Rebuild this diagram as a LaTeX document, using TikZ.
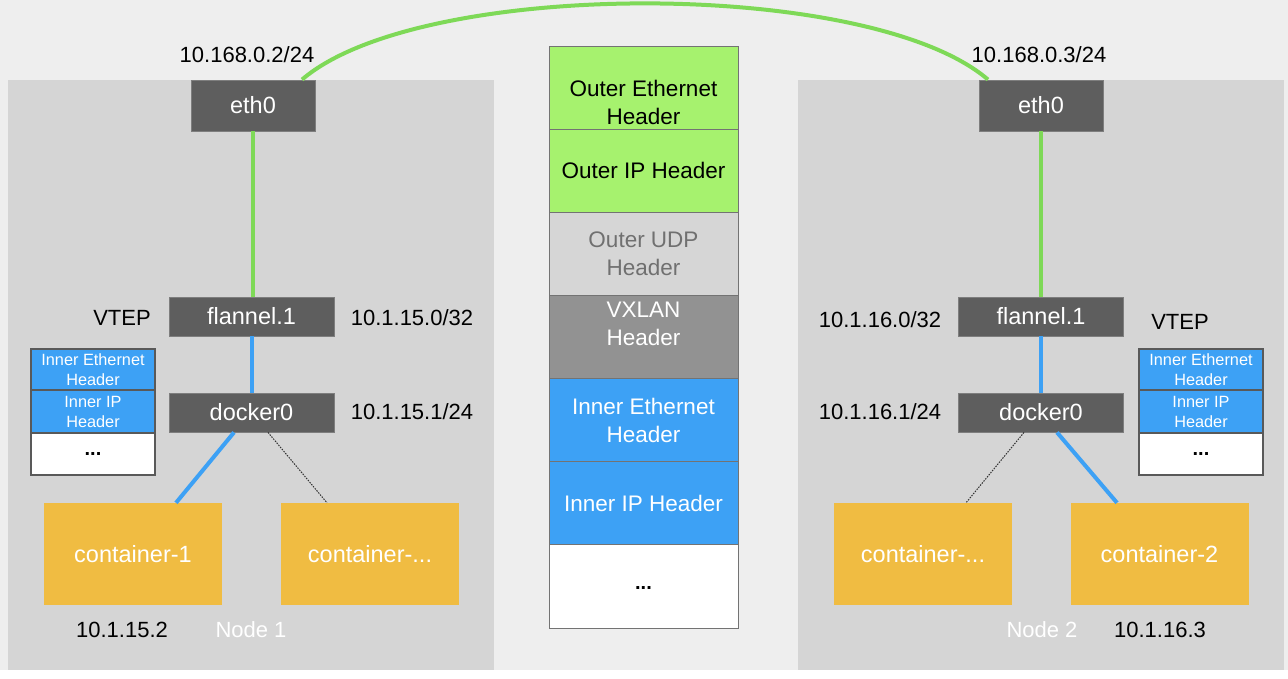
\documentclass[tikz,border=0pt]{standalone}
\usepackage{fontspec}
\setmainfont{Liberation Sans}
\usetikzlibrary{calc}
\definecolor{bgc}{HTML}{EEEEEE}
\definecolor{panelc}{HTML}{D5D5D5}
\definecolor{darkc}{HTML}{5E5E5E}
\definecolor{greenl}{HTML}{7ED957}
\definecolor{greenf}{HTML}{A6F26E}
\definecolor{udpc}{HTML}{D6D6D6}
\definecolor{udpt}{HTML}{707070}
\definecolor{vxc}{HTML}{929292}
\definecolor{bluec}{HTML}{3DA1F5}
\definecolor{contc}{HTML}{F0BC42}
\begin{document}
\begin{tikzpicture}[x=1pt,y=-1pt,
  devbox/.style={fill=darkc,draw=darkc!80!white,line width=0.8pt,text=white,inner sep=0pt,font=\fontsize{23.5}{26}\selectfont},
  contbox/.style={fill=contc,inner sep=0pt,text=white,minimum width=178pt,minimum height=102pt,font=\fontsize{23.5}{26}\selectfont},
  seg/.style={draw=black!55,line width=0.9pt,inner sep=0pt,minimum width=189pt,minimum height=83.14pt},
  segtxt/.style={align=center,font=\fontsize{22.5}{28}\selectfont},
  sseg/.style={draw=black!65,line width=1.2pt,inner sep=0pt,minimum width=124pt},
  stxt/.style={align=center,text=white,font=\fontsize{16.3}{20}\selectfont},
  dots/.style={text=black,font=\bfseries\fontsize{20}{22}\selectfont},
  iplabel/.style={font=\fontsize{22}{26}\selectfont,text=black},
  glink/.style={draw=greenl,line width=4pt},
  blink/.style={draw=bluec,line width=4pt},
  dlink/.style={draw=black!80,line width=1pt,dash pattern=on 1.5pt off 1.2pt}]
\useasboundingbox (0,0) rectangle (1288,678);
\fill[white] (0,0) rectangle (1288,678);
\fill[bgc] (0,0) rectangle (1288,670);
% panels
\fill[panelc] (8,80) rectangle (494,670);
\fill[panelc] (798,80) rectangle (1284,670);

% devices left
\node[devbox,minimum width=124pt,minimum height=51pt] (eL) at (253,105.5) {eth0};
\node[devbox,minimum width=165pt,minimum height=39pt] (fL) at (251.5,316.5) {flannel.1};
\node[devbox,minimum width=165pt,minimum height=39pt] (dL) at (251.5,412.5) {docker0};
% devices right
\node[devbox,minimum width=124pt,minimum height=51pt] (eR) at (1041,105.5) {eth0};
\node[devbox,minimum width=165pt,minimum height=39pt] (fR) at (1041,316.5) {flannel.1};
\node[devbox,minimum width=165pt,minimum height=39pt] (dR) at (1041,412.5) {docker0};

% containers
\node[contbox] (c1) at (133,554) {container-1};
\node[contbox] (c2) at (370,554) {container-...};
\node[contbox] (c3) at (923,554) {container-...};
\node[contbox] (c4) at (1159.5,554) {container-2};

% links
\coordinate (gL) at ($(eL.north)+(49,0)$);
\coordinate (gR) at ($(eR.north)+(-53,0)$);
\draw[glink] (gL) .. controls (420,-22) and (870,-22) .. (gR);
\draw[glink] (eL.south) -- (eL.south |- fL.north);
\draw[glink] (eR.south) -- (eR.south |- fR.north);
\draw[blink] (fL.south) -- (fL.south |- dL.north);
\draw[blink] (fR.south) -- (fR.south |- dR.north);
\draw[blink] ($(dL.south)+(-17.5,0)$) -- ($(c1.north)+(43,0)$);
\draw[dlink] ($(dL.south)+(16.5,0)$) -- ($(c2.north)+(-43,0)$);
\draw[dlink] ($(dR.south)+(-17,0)$) -- ($(c3.north)+(43,0)$);
\draw[blink] ($(dR.south)+(16,0)$) -- ($(c4.north)+(-42.5,0)$);

% labels
\node[iplabel] (ipL) at (247,55) {10.168.0.2/24};
\node[iplabel] (ipR) at (1039,55) {10.168.0.3/24};
\node[iplabel] (vtL) at (122,318) {VTEP};
\node[iplabel] (fipL) at (412,318) {10.1.15.0/32};
\node[iplabel] (dipL) at (412,412) {10.1.15.1/24};
\node[iplabel] (fipR) at (880,320) {10.1.16.0/32};
\node[iplabel] (vtR) at (1180,322) {VTEP};
\node[iplabel] (dipR) at (880,412) {10.1.16.1/24};
\node[iplabel] (c1ip) at (122,630) {10.1.15.2};
\node[iplabel,text=white] (n1) at (251,630) {Node 1};
\node[iplabel,text=white] (n2) at (1042,630) {Node 2};
\node[iplabel] (c4ip) at (1160,630) {10.1.16.3};

% central stack
\node[seg,fill=greenf] (s1) at (643.5,87.57) {};
\node[seg,fill=greenf] (s2) at (643.5,170.71) {};
\node[seg,fill=udpc] (s3) at (643.5,253.85) {};
\node[seg,fill=vxc] (s4) at (643.5,336.99) {};
\node[seg,fill=bluec] (s5) at (643.5,420.13) {};
\node[seg,fill=bluec] (s6) at (643.5,503.27) {};
\node[seg,fill=white] (s7) at (643.5,586.41) {};
\node[segtxt] (t1) at ($(s1.center)+(0,15)$) {Outer Ethernet\\Header};
\node[segtxt] (t2) at (s2.center) {Outer IP Header};
\node[segtxt,text=udpt] (t3) at (s3.center) {Outer UDP\\Header};
\node[segtxt,text=white] (t4) at ($(s4.center)+(0,-13)$) {VXLAN\\Header};
\node[segtxt,text=white] (t5) at (s5.center) {Inner Ethernet\\Header};
\node[segtxt,text=white] (t6) at (s6.center) {Inner IP Header};
\node[dots] (t7) at ($(s7.center)+(0,2)$) {...};

% small packet boxes
\node[sseg,fill=bluec,minimum height=41pt] (pa1) at (93,369.5) {};
\node[sseg,fill=bluec,minimum height=43pt] (pa2) at (93,411.5) {};
\node[sseg,fill=white,minimum height=42pt] (pa3) at (93,454) {};
\node[stxt] (pa1t) at (pa1.center) {Inner Ethernet\\Header};
\node[stxt] (pa2t) at (pa2.center) {Inner IP\\Header};
\node[dots] (pa3t) at ($(pa3.center)+(0,0)$) {...};

\node[sseg,fill=bluec,minimum height=41pt] (pb1) at (1201,369.5) {};
\node[sseg,fill=bluec,minimum height=43pt] (pb2) at (1201,411.5) {};
\node[sseg,fill=white,minimum height=42pt] (pb3) at (1201,454) {};
\node[stxt] (pb1t) at (pb1.center) {Inner Ethernet\\Header};
\node[stxt] (pb2t) at (pb2.center) {Inner IP\\Header};
\node[dots] (pb3t) at ($(pb3.center)+(0,0)$) {...};
\end{tikzpicture}
\end{document}
